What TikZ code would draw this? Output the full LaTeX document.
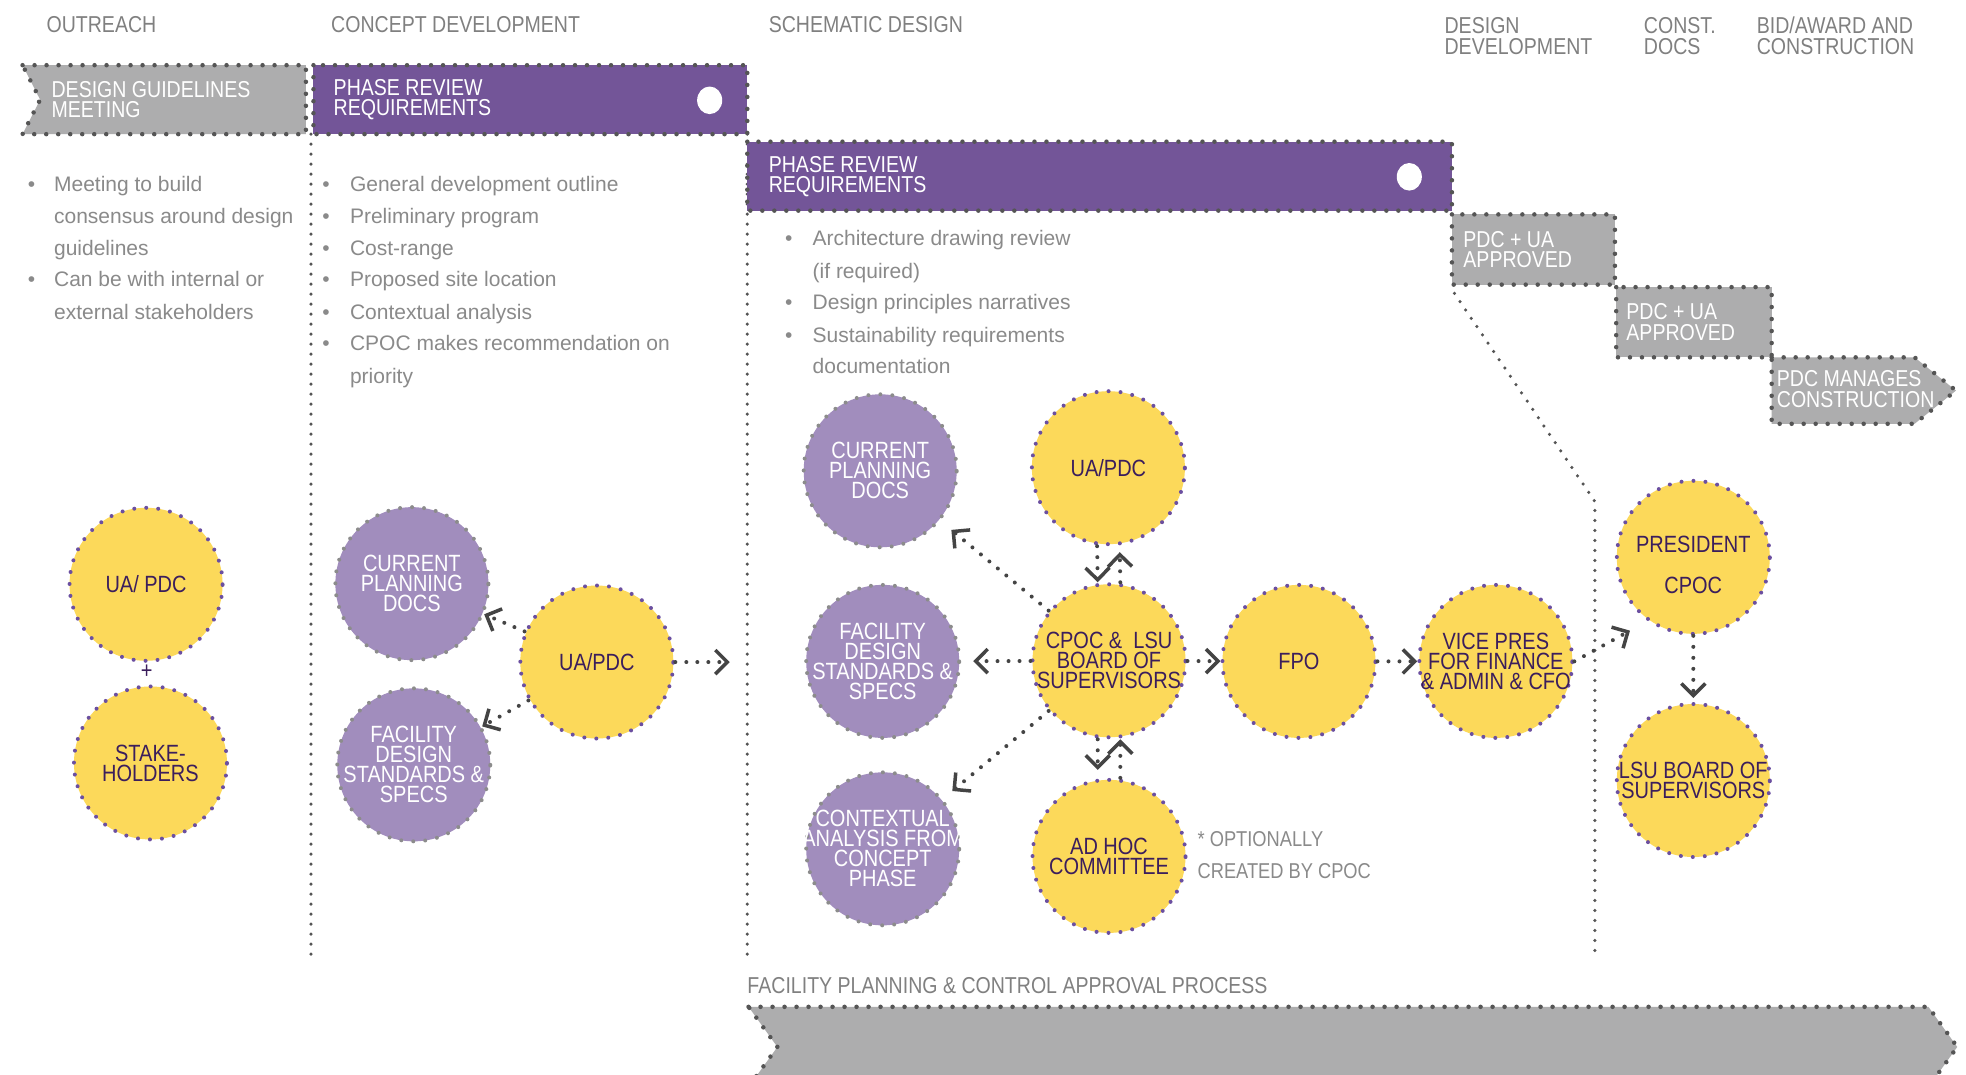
\documentclass[tikz,border=0pt]{standalone}
\usepackage{fontspec}
\setmainfont{Liberation Sans}
\newfontfamily\condf{Liberation Sans}[FakeStretch=0.85]
\usetikzlibrary{arrows.meta,calc}
\definecolor{cyellow}{HTML}{FCD95A}
\definecolor{clav}{HTML}{A18DBD}
\definecolor{cpbox}{HTML}{735598}
\definecolor{cgbox}{HTML}{ADADAE}
\definecolor{cdot}{HTML}{555555}
\definecolor{cpdot}{HTML}{6B4FA0}
\definecolor{cgdot}{HTML}{8C8C8C}
\definecolor{ctext}{HTML}{3B1E5C}
\definecolor{chead}{HTML}{808080}
\definecolor{cbody}{HTML}{8A8A8A}
\definecolor{carrow}{HTML}{444444}
\begin{document}
\begin{tikzpicture}[x=1.2538pt,y=-1.2538pt,
  capsw/.style={font=\condf\fontsize{23pt}{20.5pt}\selectfont, text=white, align=left, anchor=west, inner sep=0pt},
  head/.style={font=\condf\fontsize{23pt}{21pt}\selectfont, text=chead, align=left, anchor=west, inner sep=0pt},
  body/.style={font=\fontsize{21pt}{32pt}\selectfont, text=cbody, anchor=west, inner sep=0pt, text height=15pt, text depth=4pt},
  ycirc/.style={circle, fill=cyellow, draw=cpdot, line width=4pt, dash pattern=on 0pt off 12pt, line cap=round, minimum size=153pt, inner sep=0pt},
  pcirc/.style={ycirc, fill=clav, draw=cgdot},
  ytext/.style={font=\condf\fontsize{23.5pt}{20pt}\selectfont, text=ctext, align=center, inner sep=0pt},
  ptext/.style={ytext, text=white},
  boxline/.style={draw=cdot, line width=4.5pt, dash pattern=on 0pt off 12pt, line cap=round},
  secline/.style={draw=cdot, line width=3.5pt, dash pattern=on 0pt off 10pt, line cap=round},
  arr/.style={draw=carrow, line width=4pt, dash pattern=on 0pt off 11pt, line cap=round, -{Straight Barb[length=12pt,width=24pt,line width=3.5pt]}},
]
\clip (0,0) rectangle (1568,857);
\fill[white] (0,0) rectangle (1568,857);

% section lines
\path[secline] (248,107) -- (248,765);
\path[secline] (596,107) -- (596,765);
\path[secline] (1160,234) -- (1272,400) -- (1272,765);

% headers
\node[head] (h1) at (37,20) {OUTREACH};
\node[head] (h2) at (264,20) {CONCEPT DEVELOPMENT};
\node[head] (h3) at (613,20) {SCHEMATIC DESIGN};
\node[head] (h4) at (1152,28.5) {DESIGN\\DEVELOPMENT};
\node[head] (h5) at (1311,28.5) {CONST.\\DOCS};
\node[head] (h6) at (1401,28.5) {BID/AWARD AND\\CONSTRUCTION};

% boxes
\path[boxline, fill=cgbox] (18,52) -- (244,52) -- (244,107) -- (18,107) -- (32,79.5) -- cycle;
\path[boxline, fill=cpbox] (250,52) rectangle (596,107);
\path[boxline, fill=cpbox] (596,113) rectangle (1158,168);
\path[boxline, fill=cgbox] (1158,171) rectangle (1288,227);
\path[boxline, fill=cgbox] (1289,229) rectangle (1413,285);
\path[boxline, fill=cgbox] (1413,285) -- (1527,285) -- (1560,311.5) -- (1527,338) -- (1413,338) -- cycle;
\path[boxline, fill=cgbox] (597,803) -- (1538,803) -- (1561,835) -- (1538,867) -- (597,867) -- (620,835) -- cycle;
\fill[white] (566,80) ellipse (10 and 11);
\fill[white] (1124,141) ellipse (10 and 11);

\node[capsw] (b1) at (41,79.5) {DESIGN GUIDELINES\\MEETING};
\node[capsw] (b2) at (266,79.5) {PHASE REVIEW\\REQUIREMENTS};
\node[capsw] (b3) at (613,141) {PHASE REVIEW\\REQUIREMENTS};
\node[capsw] (b4) at (1167,199) {PDC + UA\\APPROVED};
\node[capsw] (b5) at (1297,257) {PDC + UA\\APPROVED};
\node[capsw] (b6) at (1417,310.5) {PDC MANAGES\\CONSTRUCTION};
\node[head] (fp) at (596,786) {FACILITY PLANNING \& CONTROL APPROVAL PROCESS};

% bullet texts
\foreach \yy/\tt [count=\i] in {147/Meeting to build,172/consensus around  design,198/guidelines,223/Can be with internal or,249/external stakeholders}
  \node[body] (l1-\i) at (43,\yy+1.5) {\tt};
\foreach \yy [count=\i] in {147,223}
  \node[body] (d1-\i) at (22,\yy+1.5) {•};
\foreach \yy/\tt [count=\i] in {147/General development outline,172/Preliminary program,198/Cost-range,223/Proposed site location,249/Contextual analysis,274/CPOC makes recommendation on,300/priority}
  \node[body] (l2-\i) at (279,\yy+1.5) {\tt};
\foreach \yy [count=\i] in {147,172,198,223,249,274}
  \node[body] (d2-\i) at (257,\yy+1.5) {•};
\foreach \yy/\tt [count=\i] in {190/Architecture drawing review,216/(if required),241/Design principles narratives,267/Sustainability requirements,292/documentation}
  \node[body] (l3-\i) at (648,\yy+1.5) {\tt};
\foreach \yy [count=\i] in {190,241,267}
  \node[body] (d3-\i) at (626,\yy+1.5) {•};

% circles
\node[ycirc] (c1a) at (116.5,466) {};
\node[ytext] (c1a-t) at (c1a) {UA/ PDC};
\node[ycirc] (c1b) at (120,608.5) {};
\node[ytext] (c1b-t) at (c1b) {STAKE-\\HOLDERS};
\node[ytext] (plus) at (117,536) {+};

\node[pcirc] (c2a) at (328.5,465.5) {};
\node[ptext] (c2a-t) at (c2a) {CURRENT\\PLANNING\\DOCS};
\node[pcirc] (c2b) at (330,610) {};
\node[ptext] (c2b-t) at (c2b) {FACILITY\\DESIGN\\STANDARDS \&\\SPECS};
\node[ycirc] (c2c) at (476,528) {};
\node[ytext] (c2c-t) at (c2c) {UA/PDC};
\coordinate (c2out) at (582,528);

\node[pcirc] (c3a) at (702,375.5) {};
\node[ptext] (c3a-t) at (c3a) {CURRENT\\PLANNING\\DOCS};
\node[ycirc] (c3b) at (884,373) {};
\node[ytext] (c3b-t) at (c3b) {UA/PDC};
\node[pcirc] (c3c) at (704,527.5) {};
\node[ptext] (c3c-t) at (c3c) {FACILITY\\DESIGN\\STANDARDS \&\\SPECS};
\node[ycirc] (c3d) at (884.5,527) {};
\node[ytext] (c3d-t) at (c3d) {CPOC \&\ \ LSU\\BOARD OF\\SUPERVISORS};
\node[ycirc] (c3e) at (1036,527.5) {};
\node[ytext] (c3e-t) at (c3e) {FPO};
\node[ycirc] (c3f) at (1193,527.5) {};
\node[ytext] (c3f-t) at (c3f) {VICE PRES\\FOR FINANCE\\\& ADMIN \& CFO};
\node[pcirc] (c3g) at (704,677) {};
\node[ptext] (c3g-t) at (c3g) {CONTEXTUAL\\ANALYSIS FROM\\CONCEPT\\PHASE};
\node[ycirc] (c3h) at (884.5,683) {};
\node[ytext] (c3h-t) at (c3h) {AD HOC\\COMMITTEE};
\node[ytext, text=cbody, align=left, anchor=west, font=\condf\fontsize{21.5pt}{32pt}\selectfont] (note) at (955,682) {* OPTIONALLY\\CREATED BY CPOC};

\node[ycirc] (c4a) at (1350.5,444.5) {};
\node[ytext, font=\condf\fontsize{23.5pt}{41pt}\selectfont] (c4a-t) at ($(c4a)+(0,6)$) {PRESIDENT\\CPOC};
\node[ycirc] (c4b) at (1350.5,622.5) {};
\node[ytext] (c4b-t) at (c4b) {LSU BOARD OF\\SUPERVISORS};
\coordinate (t4) at (1300,503);

% connectors
\draw[arr] (c2c) -- (c2a);
\draw[arr] (c2c) -- (c2b);
\draw[arr] (c2c.east) -- (c2out);
\draw[arr, shorten >=14pt] (c3d) -- (c3a);
\draw[arr, shorten >=12pt] (c3d) -- (c3c);
\draw[arr, shorten >=12pt] (c3d) -- (c3g);
\draw[arr] ($(c3b.south)+(-9,0)$) -- ($(c3d.north)+(-9,0)$);
\draw[arr, shorten >=6pt] ($(c3d.north)+(9,0)$) -- ($(c3b.south)+(9,0)$);
\draw[arr, shorten >=8pt] ($(c3d.south)+(-9,0)$) -- ($(c3h.north)+(-9,0)$);
\draw[arr] ($(c3h.north)+(9,0)$) -- ($(c3d.south)+(9,0)$);
\draw[arr] (c3d) -- (c3e);
\draw[arr] (c3e) -- (c3f);
\draw[arr] (c3f.east) -- (t4);
\draw[arr, shorten >=4pt] (c4a) -- (c4b);
\end{tikzpicture}
\end{document}
